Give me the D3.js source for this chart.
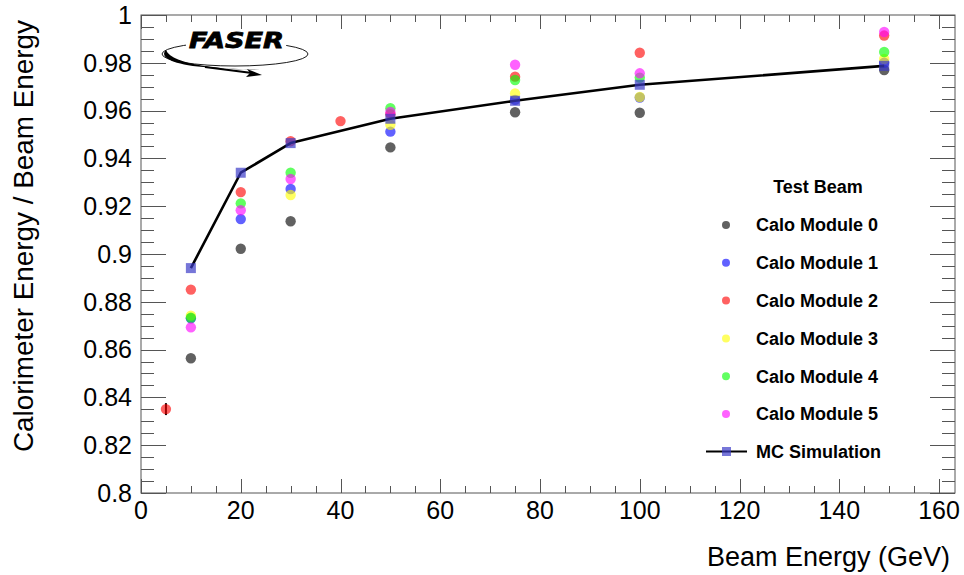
<!DOCTYPE html>
<html>
<head>
<meta charset="utf-8">
<script src="https://cdn.jsdelivr.net/npm/d3@7"></script>
<style>
  html, body { margin: 0; padding: 0; background: #fff; }
  svg { display: block; font-family: "Liberation Sans", Arial, Helvetica, sans-serif; }
</style>
</head>
<body>
<svg id="chart" width="964" height="575"></svg>
<script>
// Beam energies (GeV) of the test-beam runs
const energies = [5, 10, 20, 30, 40, 50, 75, 100, 149];

// Calorimeter energy / beam energy for each module (null = no run)
const module0 = [null, 0.8564, 0.9022, 0.9137, null, 0.9446, 0.9593, 0.9591, 0.9770];
const module1 = [null, 0.8731, 0.9146, 0.9272, null, 0.9512, 0.9645, 0.9655, 0.9800];
const module2 = [0.8351, 0.8851, 0.9259, 0.9472, 0.9556, 0.9585, 0.9742, 0.9842, 0.9914];
const module3 = [null, 0.8742, null, 0.9247, null, 0.9541, 0.9672, 0.9657, 0.9816];
const module4 = [null, 0.8733, 0.9212, 0.9340, null, 0.9610, 0.9728, 0.9738, 0.9845];
const module5 = [null, 0.8693, 0.9183, 0.9314, null, 0.9594, 0.9792, 0.9756, 0.9929];

// Statistical uncertainty on module 2 (only visible at 5 GeV)
const module2Err = [0.0025, 0, 0, 0, 0, 0, 0, 0, 0];

// Simulation
const mcEnergies = [10, 20, 30, 50, 75, 100, 149];
const mcValues = [0.8941, 0.9340, 0.9464, 0.9566, 0.9641, 0.9708, 0.9787];

const moduleNames = ["Calo Module 0", "Calo Module 1", "Calo Module 2",
                     "Calo Module 3", "Calo Module 4", "Calo Module 5"];
const moduleColors = ["#000000", "#0000ff", "#ff0000", "#ffff00", "#00ff00", "#ff00ff"];
const moduleSeries = [module0, module1, module2, module3, module4, module5];

const xTicks = [0, 20, 40, 60, 80, 100, 120, 140, 160];
const yTicks = [0.8, 0.82, 0.84, 0.86, 0.88, 0.9, 0.92, 0.94, 0.96, 0.98, 1];
const yTickLabels = ["0.8", "0.82", "0.84", "0.86", "0.88", "0.9", "0.92", "0.94", "0.96", "0.98", "1"];

const svg = d3.select("#chart");
const frame = { left: 141, right: 955, top: 15, bottom: 493 };

const x = d3.scaleLinear().domain([0, 163.2]).range([frame.left, frame.right]);
const y = d3.scaleLinear().domain([0.8, 1.0]).range([frame.bottom, frame.top]);

const axisColor = "#555";

// Frame
svg.append("rect")
  .attr("x", frame.left).attr("y", frame.top)
  .attr("width", frame.right - frame.left).attr("height", frame.bottom - frame.top)
  .attr("fill", "none").attr("stroke", axisColor).attr("stroke-width", 1);

// Ticks (major + minor on all four sides)
const xMinor = d3.range(0, 163, 5);
const yMinor = d3.range(0, 41).map(i => 0.8 + i * 0.005);
const tickG = svg.append("g").attr("stroke", axisColor).attr("stroke-width", 1);
xMinor.forEach(v => {
  const major = Math.abs(v % 20) < 1e-9;
  const len = major ? 14 : 7;
  const px = Math.round(x(v)) + 0.5;
  tickG.append("line").attr("x1", px).attr("x2", px).attr("y1", frame.bottom).attr("y2", frame.bottom - len);
  tickG.append("line").attr("x1", px).attr("x2", px).attr("y1", frame.top).attr("y2", frame.top + len);
});
yMinor.forEach((v, i) => {
  const major = i % 4 === 0;
  const len = major ? 25 : 13;
  const py = Math.round(y(v)) + 0.5;
  tickG.append("line").attr("x1", frame.left).attr("x2", frame.left + len).attr("y1", py).attr("y2", py);
  tickG.append("line").attr("x1", frame.right).attr("x2", frame.right - len).attr("y1", py).attr("y2", py);
});

// Tick labels
svg.append("g").selectAll("text").data(xTicks).join("text")
  .attr("x", d => x(d)).attr("y", 519)
  .attr("text-anchor", "middle").attr("font-size", 25).attr("fill", "#000")
  .text(d => d);
svg.append("g").selectAll("text").data(yTicks).join("text")
  .attr("x", 132).attr("y", d => y(d))
  .attr("dy", "0.35em")
  .attr("text-anchor", "end").attr("font-size", 25).attr("fill", "#000")
  .text((d, i) => yTickLabels[i]);

// Axis titles
svg.append("text")
  .attr("x", 950).attr("y", 566)
  .attr("text-anchor", "end").attr("font-size", 27)
  .text("Beam Energy (GeV)");
svg.append("text")
  .attr("transform", "translate(33,20) rotate(-90)")
  .attr("text-anchor", "end").attr("font-size", 27.5)
  .attr("textLength", 432).attr("lengthAdjust", "spacingAndGlyphs")
  .text("Calorimeter Energy / Beam Energy");

// Test-beam points
const plot = svg.append("g");
moduleSeries.forEach((vals, m) => {
  const pts = energies.map((e, i) => ({ e, v: vals[i], err: m === 2 ? module2Err[i] : 0 }))
    .filter(d => d.v !== null);
  const g = plot.append("g");
  g.selectAll("line").data(pts.filter(d => d.err > 0)).join("line")
    .attr("x1", d => x(d.e)).attr("x2", d => x(d.e))
    .attr("y1", d => y(d.v - d.err)).attr("y2", d => y(d.v + d.err))
    .attr("stroke", "#000").attr("stroke-width", 2);
  g.selectAll("circle").data(pts).join("circle")
    .attr("cx", d => x(d.e)).attr("cy", d => y(d.v))
    .attr("r", 5.2)
    .attr("fill", moduleColors[m]).attr("fill-opacity", 0.62);
});

// Simulation curve
const mc = mcEnergies.map((e, i) => ({ e, v: mcValues[i] }));
plot.append("path")
  .datum(mc)
  .attr("d", d3.line().x(d => x(d.e)).y(d => y(d.v)))
  .attr("fill", "none").attr("stroke", "#000").attr("stroke-width", 2.6)
  .attr("stroke-linejoin", "round");
plot.selectAll("rect.mc").data(mc).join("rect")
  .attr("class", "mc")
  .attr("x", d => x(d.e) - 5).attr("y", d => y(d.v) - 5)
  .attr("width", 10).attr("height", 10)
  .attr("fill", "#3c3cc8").attr("fill-opacity", 0.7);

// Legend
const legend = svg.append("g").attr("font-weight", "bold").attr("font-size", 18);
legend.append("text").attr("x", 818).attr("y", 187).attr("dy", "0.35em")
  .attr("text-anchor", "middle").text("Test Beam");
moduleNames.forEach((name, i) => {
  const ly = 225 + i * 37.8;
  legend.append("circle").attr("cx", 726).attr("cy", ly).attr("r", 4)
    .attr("fill", moduleColors[i]).attr("fill-opacity", 0.62);
  legend.append("text").attr("x", 756).attr("y", ly).attr("dy", "0.35em").text(name);
});
const mcY = 451.5;
legend.append("line").attr("x1", 706).attr("x2", 747).attr("y1", mcY).attr("y2", mcY)
  .attr("stroke", "#000").attr("stroke-width", 2.2);
legend.append("rect").attr("x", 722).attr("y", mcY - 4.5).attr("width", 9).attr("height", 9)
  .attr("fill", "#3c3cc8").attr("fill-opacity", 0.7);
legend.append("text").attr("x", 756).attr("y", mcY).attr("dy", "0.35em").text("MC Simulation");

// FASER logo: italic wordmark with an orbit swoosh and arrow
const logo = svg.append("g");
logo.append("ellipse")
  .attr("cx", 235).attr("cy", 54).attr("rx", 73).attr("ry", 12)
  .attr("fill", "none").attr("stroke", "#000").attr("stroke-width", 0.9);
// thicker lower-left crescent of the swoosh
logo.append("path")
  .attr("d", "M166,50 C158,58 175,66 215,68 L260,70 C230,70 172,66 166,50 Z")
  .attr("fill", "#000");
logo.append("path")
  .attr("d", "M205,67 L252,73")
  .attr("stroke", "#000").attr("stroke-width", 2.2).attr("fill", "none");
logo.append("path")
  .attr("d", "M262,75 L246,77 L250,73 L247,69 Z")
  .attr("fill", "#000");
logo.append("rect").attr("x", 186).attr("y", 31).attr("width", 100).attr("height", 19).attr("fill", "#fff");
logo.append("text")
  .attr("x", 189).attr("y", 48)
  .attr("font-family", "'DejaVu Sans', 'Liberation Sans', sans-serif")
  .attr("font-weight", "bold").attr("font-style", "italic")
  .attr("font-size", 21)
  .attr("stroke", "#000").attr("stroke-width", 0.8)
  .attr("textLength", 95).attr("lengthAdjust", "spacingAndGlyphs")
  .text("FASER");
</script>
</body>
</html>
